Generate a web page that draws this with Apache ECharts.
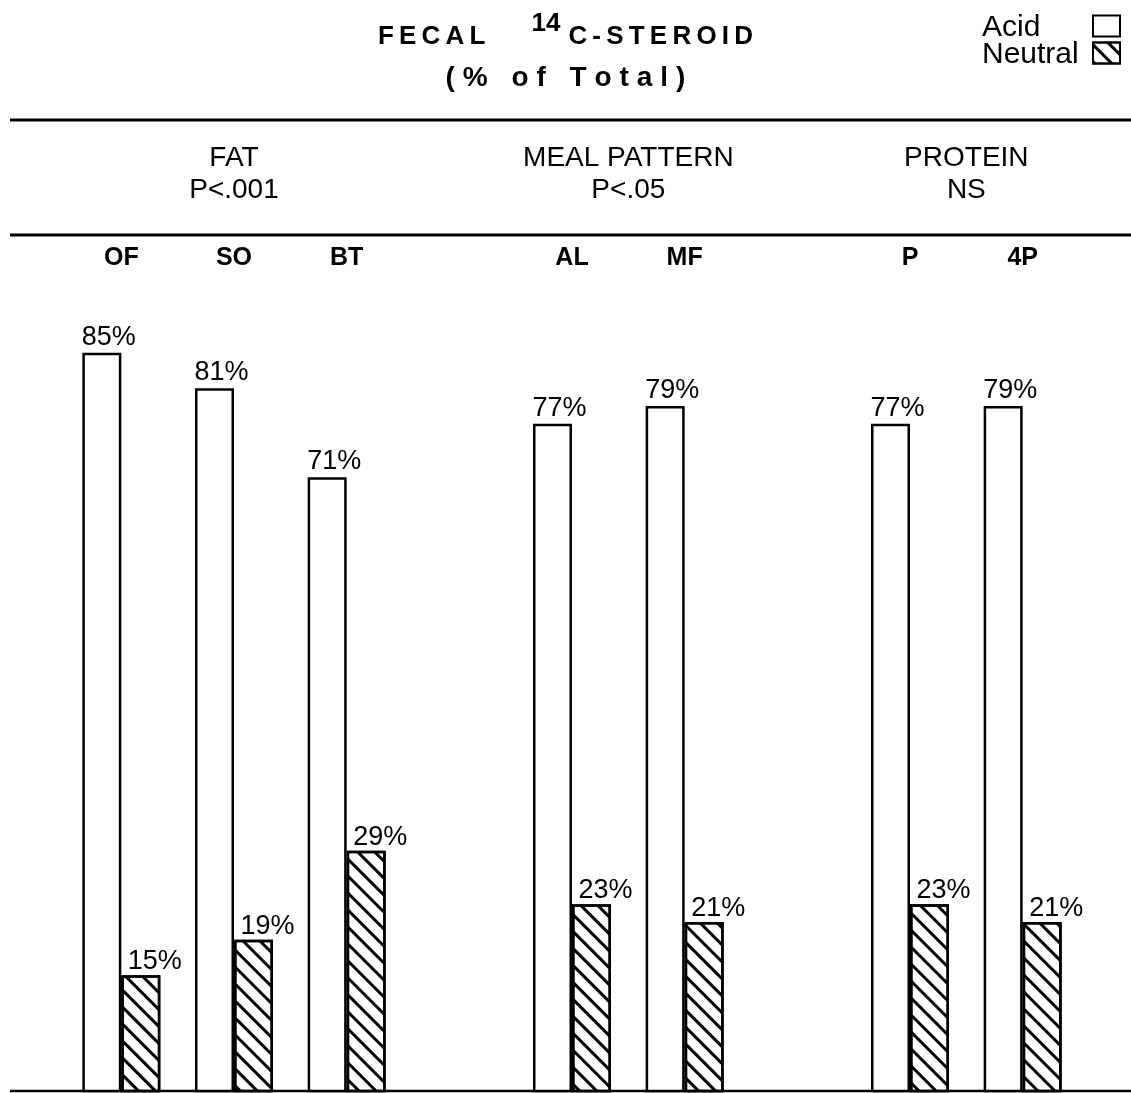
<!DOCTYPE html>
<html>
<head>
<meta charset="utf-8">
<script src="https://cdn.jsdelivr.net/npm/echarts@6/dist/echarts.min.js"></script>
<style>
html,body{margin:0;padding:0;background:#fff;}
#c{width:1131px;height:1093px;}
</style>
</head>
<body>
<div id="c"></div>
<script>
const categories = ['OF', 'SO', 'BT', '', 'AL', 'MF', '', 'P', '4P'];
const acidValues = [85, 81, 71, null, 77, 79, null, 77, 79];
const neutralValues = [15, 19, 29, null, 23, 21, null, 23, 21];
const groupNames = ['FAT', 'MEAL PATTERN', 'PROTEIN'];
const groupStats = ['P<.001', 'P<.05', 'NS'];
const groupMembers = [[0, 2], [4, 5], [7, 8]];
const seriesNames = ['Acid', 'Neutral'];

const FONT = 'Liberation Sans';
const sp = (s, sep) => s.split('').join(sep || '\u2009');

const chart = echarts.init(document.getElementById('c'));
const option = {
  backgroundColor: '#fff',
  animation: false,
  textStyle: { fontFamily: FONT, color: '#000' },
  title: {
    left: 'center',
    top: 17,
    text: '{a|' + sp('FECAL') + '}{g|}{s|14}{a|' + sp('C-STEROID') + '}',
    subtext: sp('(% of Total)', '\u2009\u200A'),
    itemGap: 0,
    textStyle: {
      rich: {
        a: { fontFamily: FONT, fontSize: 26, fontWeight: 'bold', color: '#000', lineHeight: 28, verticalAlign: 'bottom' },
        g: { width: 46, lineHeight: 28 },
        s: { fontFamily: FONT, fontSize: 26, fontWeight: 'bold', color: '#000', lineHeight: 28, verticalAlign: 'bottom', padding: [0, 8, 13, 0] }
      }
    },
    subtextStyle: { fontFamily: FONT, fontSize: 28, fontWeight: 'bold', color: '#000', lineHeight: 34 }
  },
  legend: {
    data: seriesNames,
    icon: 'rect',
    orient: 'vertical',
    right: 5,
    top: 4,
    align: 'right',
    itemWidth: 27,
    itemHeight: 21,
    itemGap: -7,
    formatter: n => '{t|' + n + '}',
    textStyle: {
      fontFamily: FONT, fontSize: 30, color: '#000', lineHeight: 21,
      rich: { t: { fontFamily: FONT, fontSize: 30, color: '#000', width: 106, align: 'left', lineHeight: 21, padding: [4, 0, 0, 0] } }
    }
  },
  grid: { left: 65, right: 52, top: 237, bottom: 2 },
  xAxis: {
    type: 'category',
    data: categories,
    position: 'top',
    axisLine: { show: false },
    axisTick: { show: false },
    axisLabel: { inside: true, margin: 9, fontFamily: FONT, fontSize: 25, fontWeight: 'bold', color: '#000' }
  },
  yAxis: { type: 'value', min: 2, max: 98, show: false },
  series: [
    {
      name: seriesNames[0],
      type: 'bar',
      data: acidValues,
      barWidth: 39,
      barGap: '0%',
      clip: true,
      itemStyle: { color: '#fff', borderColor: '#000', borderWidth: 2.5 },
      label: { show: true, position: 'top', distance: 2, offset: [7, 0], formatter: '{c}%', fontFamily: FONT, fontSize: 27, color: '#000' }
    },
    {
      name: seriesNames[1],
      type: 'bar',
      data: neutralValues,
      barWidth: 39,
      clip: true,
      itemStyle: {
        color: '#fff', borderColor: '#000', borderWidth: 2.5,
        decal: { symbol: 'rect', symbolSize: 1, dashArrayX: [1, 0], dashArrayY: [3, 9], rotation: Math.PI / 4, color: '#000' }
      },
      label: { show: true, position: 'top', distance: 0, offset: [14, 0], formatter: '{c}%', fontFamily: FONT, fontSize: 27, color: '#000' }
    }
  ]
};
chart.setOption(option);

const W = 1131;
const graphics = [
  { type: 'line', shape: { x1: 10, y1: 120, x2: W, y2: 120 }, style: { stroke: '#000', lineWidth: 3 } },
  { type: 'line', shape: { x1: 10, y1: 235, x2: W, y2: 235 }, style: { stroke: '#000', lineWidth: 3 } },
  { type: 'line', shape: { x1: 10, y1: 1091, x2: W, y2: 1091 }, style: { stroke: '#000', lineWidth: 2.5 } }
];
groupNames.forEach((g, i) => {
  const a = chart.convertToPixel({ xAxisIndex: 0 }, categories[groupMembers[i][0]]);
  const b = chart.convertToPixel({ xAxisIndex: 0 }, categories[groupMembers[i][1]]);
  const cx = (a + b) / 2;
  graphics.push({ type: 'text', x: cx, y: 158, style: { text: g, fontFamily: FONT, fontSize: 28, fill: '#000', align: 'center', verticalAlign: 'middle' } });
  graphics.push({ type: 'text', x: cx, y: 190, style: { text: groupStats[i], fontFamily: FONT, fontSize: 28, fill: '#000', align: 'center', verticalAlign: 'middle' } });
});
chart.setOption({ graphic: graphics });
</script>
</body>
</html>
